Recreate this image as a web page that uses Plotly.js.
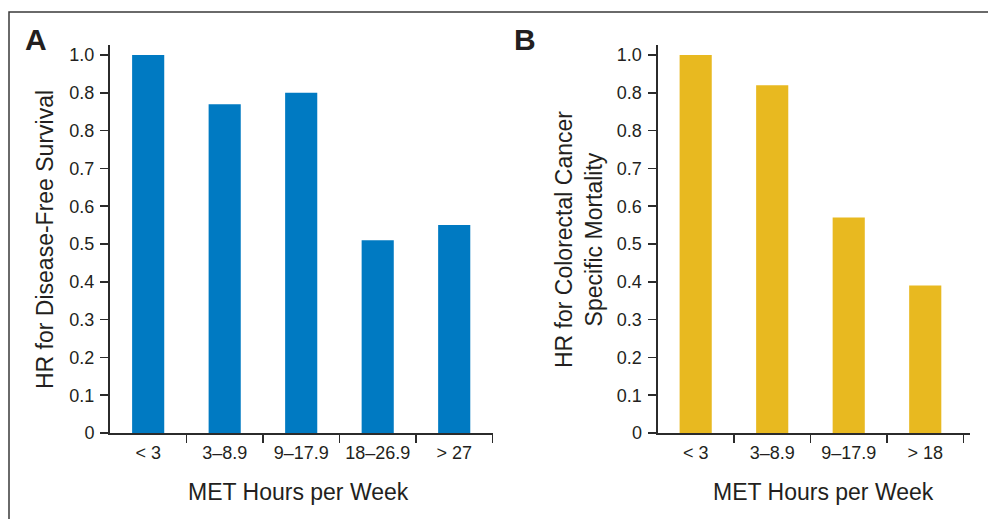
<!DOCTYPE html>
<html>
<head>
<meta charset="utf-8">
<script src="https://cdn.plot.ly/plotly-3.0.1.min.js"></script>
<style>html,body{margin:0;padding:0;background:#fff;}#chart{width:988px;height:519px;}</style>
</head>
<body>
<div id="chart"></div>
<script>
// ---- data ----
const categoriesA = ['< 3', '3–8.9', '9–17.9', '18–26.9', '> 27'];
const valuesA = [1.0, 0.87, 0.90, 0.51, 0.55];
const categoriesB = ['< 3', '3–8.9', '9–17.9', '> 18'];
const valuesB = [1.0, 0.92, 0.57, 0.39];
const yTickVals = [0, 0.1, 0.2, 0.3, 0.4, 0.5, 0.6, 0.7, 0.8, 0.9, 1.0];
const yTickText = ['0', '0.1', '0.2', '0.3', '0.4', '0.5', '0.6', '0.7', '0.8', '0.8', '1.0'];
const yTitleA = 'HR for Disease-Free Survival';
const yTitleB = 'HR for Colorectal Cancer<br>Specific Mortality';
const xTitle = 'MET Hours per Week';

// ---- layout helpers ----
const W = 988, H = 519;
const px = v => v / W;
const py = v => 1 - v / H;
const ink = '#2b2b2b';
const fontFam = '"Liberation Sans", Arial, Helvetica, sans-serif';

const traces = [
  {type: 'bar', x: categoriesA, y: valuesA, xaxis: 'x', yaxis: 'y',
   marker: {color: '#007AC2'}, hoverinfo: 'x+y'},
  {type: 'bar', x: categoriesB, y: valuesB, xaxis: 'x2', yaxis: 'y2',
   marker: {color: '#E8B920'}, hoverinfo: 'x+y'}
];

const yCommon = {
  range: [0, 1.0265], tickvals: yTickVals, ticktext: yTickText,
  showline: true, linecolor: ink, linewidth: 2, ticks: 'outside', ticklen: 8,
  tickwidth: 1.5, tickcolor: ink, showgrid: false, zeroline: false,
  tickfont: {family: fontFam, size: 18, color: '#231f20'}, ticklabelstandoff: 2,
  domain: [py(433), py(45)], fixedrange: true
};
const xCommon = {
  type: 'category', showline: true, linecolor: ink, linewidth: 2,
  ticks: 'outside', tickson: 'boundaries', ticklen: 8, tickwidth: 1.5, tickcolor: ink,
  showgrid: false, zeroline: false, ticklabelstandoff: 2,
  tickfont: {family: fontFam, size: 18, color: '#231f20'}, fixedrange: true
};

const layout = {
  width: W, height: H,
  margin: {l: 0, r: 0, t: 0, b: 0},
  paper_bgcolor: '#ffffff', plot_bgcolor: '#ffffff',
  showlegend: false, bargap: 0.58,
  xaxis: Object.assign({}, xCommon, {domain: [px(110), px(493)], range: [-0.499, 4.507], anchor: 'y'}),
  yaxis: Object.assign({}, yCommon, {anchor: 'x'}),
  xaxis2: Object.assign({}, xCommon, {domain: [px(657.5), px(970)], range: [-0.499, 3.585], anchor: 'y2'}),
  yaxis2: Object.assign({}, yCommon, {anchor: 'x2'}),
  shapes: [
    {type: 'rect', xref: 'paper', yref: 'paper', x0: px(9), x1: 1.02, y0: -0.02, y1: py(12),
     line: {color: '#3a3a3a', width: 1.5}, fillcolor: 'rgba(0,0,0,0)'}
  ],
  annotations: [
    {text: '<b>A</b>', xref: 'paper', yref: 'paper', x: px(36), y: py(39), xanchor: 'center', yanchor: 'middle',
     showarrow: false, font: {family: fontFam, size: 30, color: '#231f20'}},
    {text: '<b>B</b>', xref: 'paper', yref: 'paper', x: px(525), y: py(39), xanchor: 'center', yanchor: 'middle',
     showarrow: false, font: {family: fontFam, size: 30, color: '#231f20'}},
    {text: yTitleA, xref: 'paper', yref: 'paper', x: px(45), y: py(240), xanchor: 'center', yanchor: 'middle',
     textangle: -90, showarrow: false, font: {family: fontFam, size: 23, color: '#231f20'}},
    {text: yTitleB, xref: 'paper', yref: 'paper', x: px(579), y: py(240), xanchor: 'center', yanchor: 'middle',
     textangle: -90, showarrow: false, font: {family: fontFam, size: 23, color: '#231f20'}},
    {text: xTitle, xref: 'paper', yref: 'paper', x: px(298), y: py(492), xanchor: 'center', yanchor: 'middle',
     showarrow: false, font: {family: fontFam, size: 23, color: '#231f20'}},
    {text: xTitle, xref: 'paper', yref: 'paper', x: px(823), y: py(492), xanchor: 'center', yanchor: 'middle',
     showarrow: false, font: {family: fontFam, size: 23, color: '#231f20'}}
  ]
};

Plotly.newPlot('chart', traces, layout, {displayModeBar: false, staticPlot: true});
</script>
</body>
</html>
